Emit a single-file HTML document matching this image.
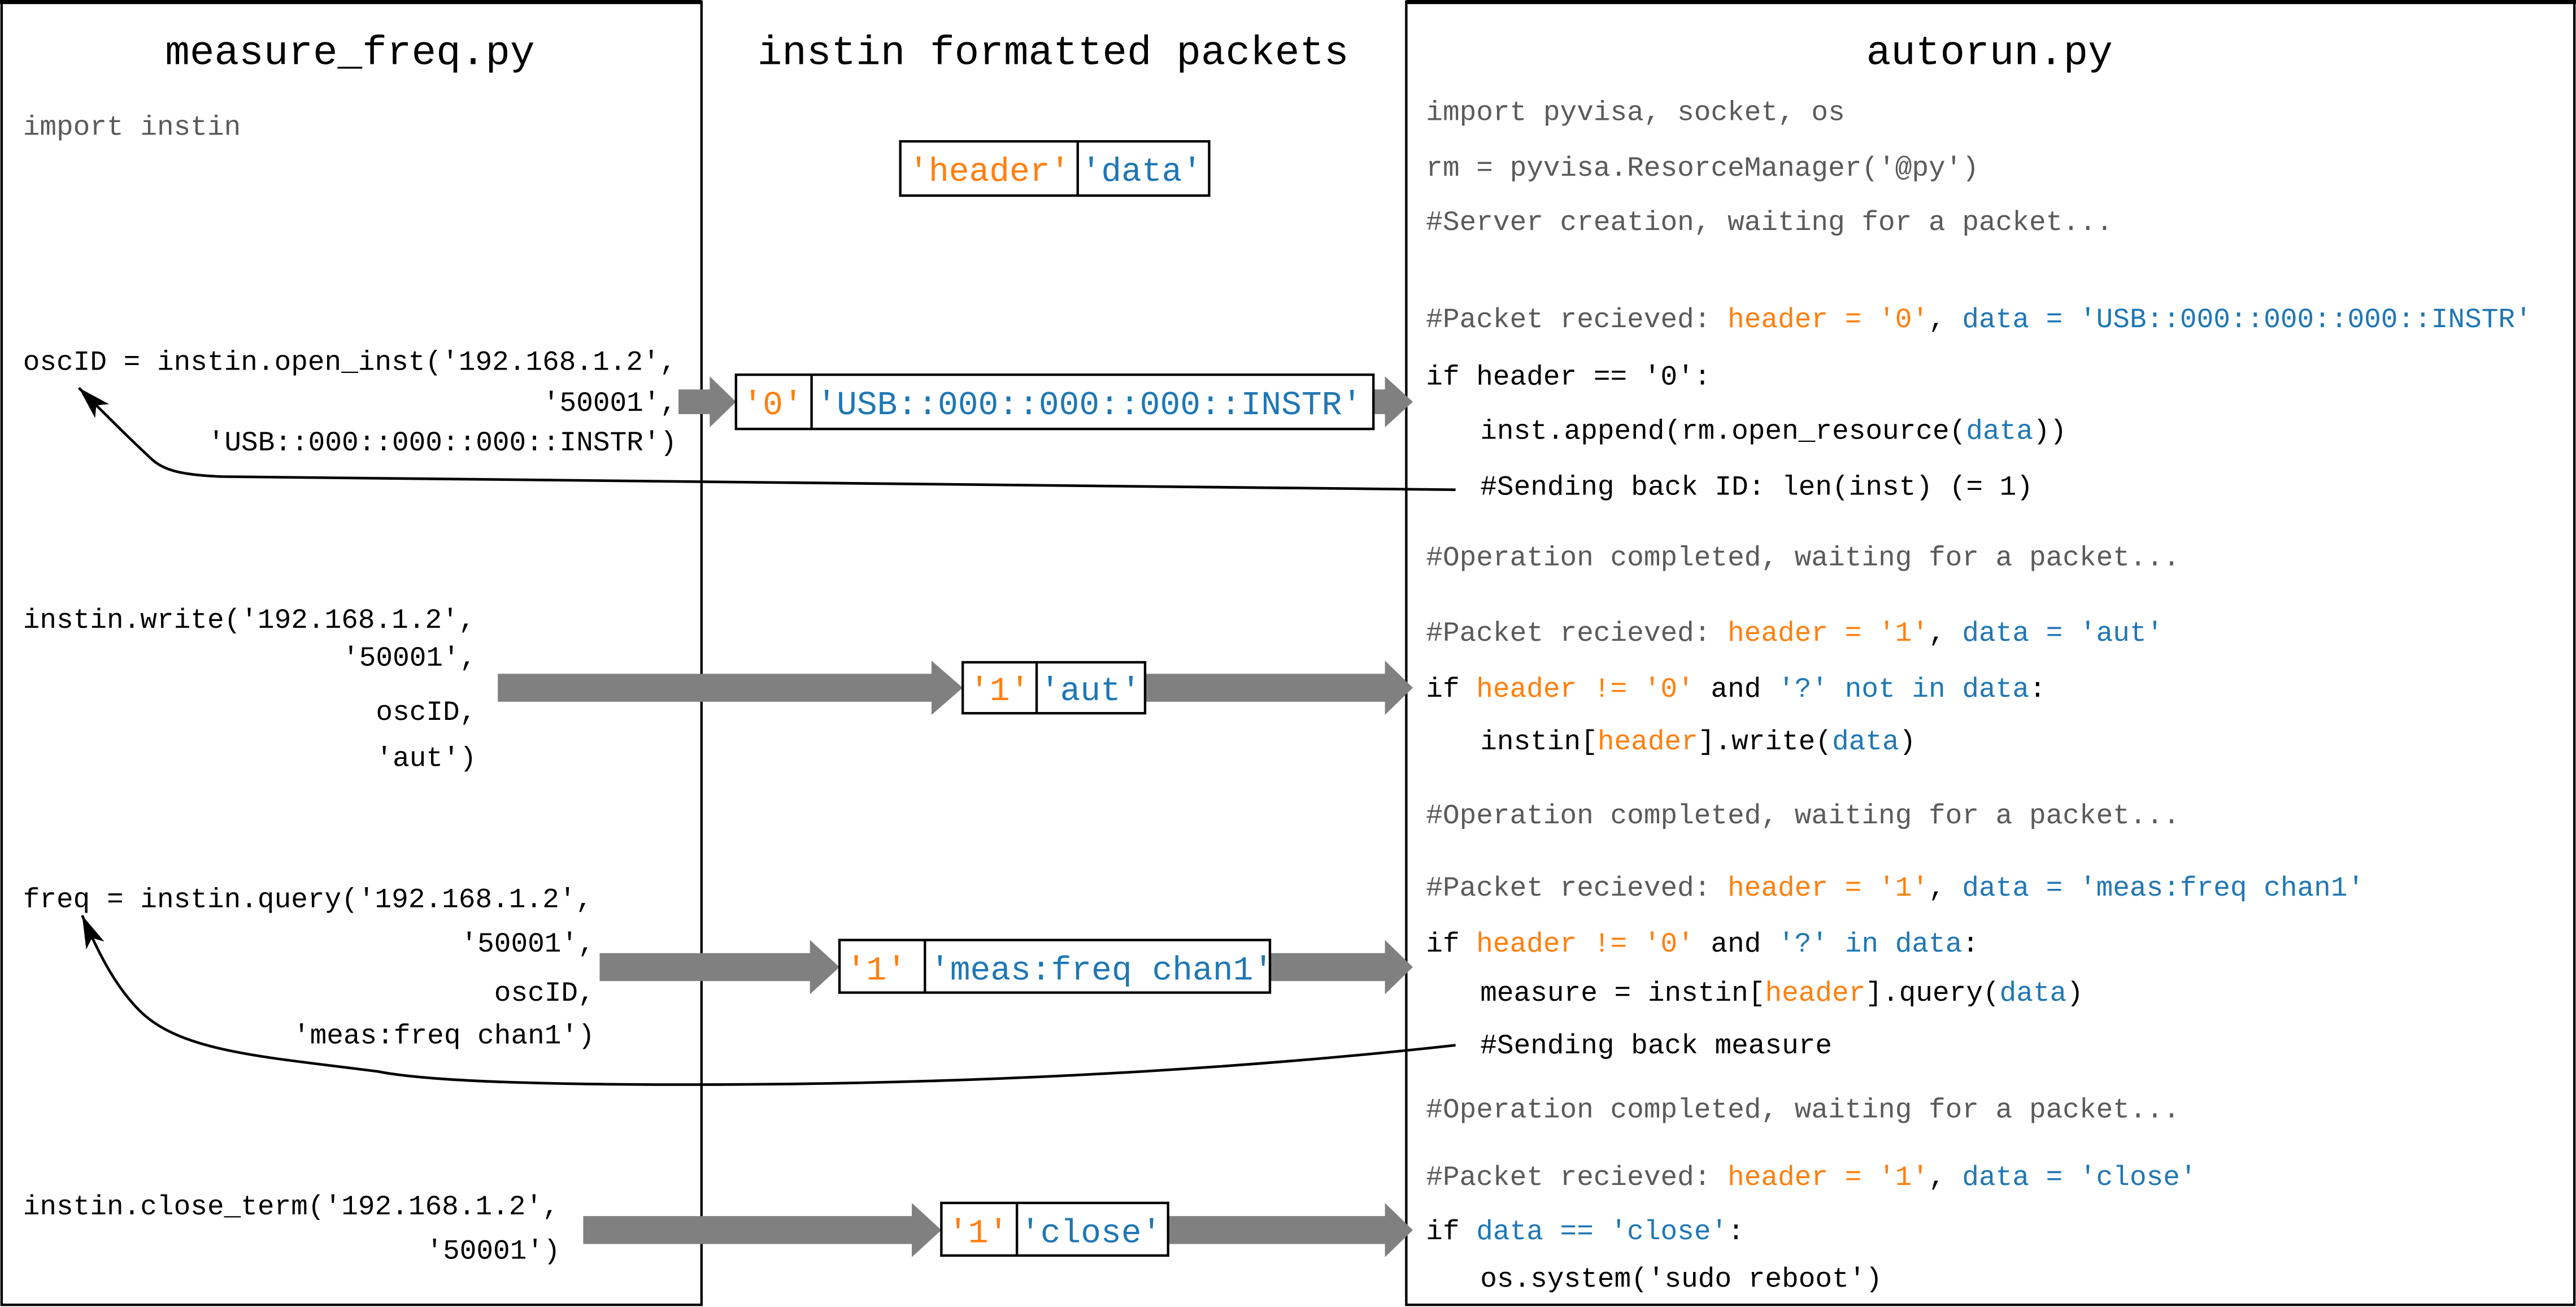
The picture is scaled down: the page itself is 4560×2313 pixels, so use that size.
<!DOCTYPE html>
<html><head><meta charset="utf-8"><style>
html,body{margin:0;padding:0;background:#fff;}
svg{display:block;}
text{font-family:"Liberation Mono",monospace;}
.c{font-size:17px;fill:#000;}
.g{fill:#5a5a5a;}
.o{fill:#ff7f0e;}
.b{fill:#1f77b4;}
.t{font-size:25px;fill:#000;}
.p{font-size:20.5px;}
</style></head><body>
<svg width="4560" height="2313" viewBox="0 0 1568 795.3" xmlns="http://www.w3.org/2000/svg" xml:space="preserve">
<defs>
<marker id="ah" viewBox="0 0 20 12" refX="20" refY="6" markerWidth="20" markerHeight="12" markerUnits="userSpaceOnUse" orient="auto">
<path d="M0,0 L20,6 L0,12 L5,6 Z" fill="#000"/>
</marker>
</defs>
<rect x="0" y="0" width="1568" height="795.3" fill="#fff"/>
<rect x="1" y="1" width="426" height="793" fill="none" stroke="#000" stroke-width="1.5"/>
<rect x="856" y="1" width="711" height="793" fill="none" stroke="#000" stroke-width="1.5"/>
<line x1="0" y1="1.2" x2="427" y2="1.2" stroke="#000" stroke-width="2.5"/>
<line x1="856" y1="1.2" x2="1568" y2="1.2" stroke="#000" stroke-width="2.5"/>

<text class="t" x="213" y="39" text-anchor="middle">measure_freq.py</text>
<text class="t" x="641" y="39" text-anchor="middle">instin formatted packets</text>
<text class="t" x="1211" y="39" text-anchor="middle">autorun.py</text>

<text class="c g" x="14" y="82">import instin</text>
<text class="c" x="14" y="225">oscID = instin.open_inst('192.168.1.2',</text>
<text class="c" x="412" y="250" text-anchor="end">'50001',</text>
<text class="c" x="412" y="274" text-anchor="end">'USB::000::000::000::INSTR')</text>

<text class="c" x="14" y="382">instin.write('192.168.1.2',</text>
<text class="c" x="290" y="405" text-anchor="end">'50001',</text>
<text class="c" x="290" y="438" text-anchor="end">oscID,</text>
<text class="c" x="290" y="466" text-anchor="end">'aut')</text>

<text class="c" x="14" y="552">freq = instin.query('192.168.1.2',</text>
<text class="c" x="362" y="579" text-anchor="end">'50001',</text>
<text class="c" x="362" y="609" text-anchor="end">oscID,</text>
<text class="c" x="362" y="635" text-anchor="end">'meas:freq chan1')</text>

<text class="c" x="14" y="739">instin.close_term('192.168.1.2',</text>
<text class="c" x="341" y="766" text-anchor="end">'50001')</text>

<g fill="#808080">
<polygon points="413,237 432,237 432,229 448,244.5 432,260 432,252 413,252"/>
<polygon points="836,237 843,237 843,229 860,244.5 843,260 843,252 836,252"/>
<polygon points="303,410 567,410 567,402 586,418.5 567,435 567,427 303,427"/>
<polygon points="697,410 843,410 843,402 860,418.5 843,435 843,427 697,427"/>
<polygon points="365,580 493,580 493,572 511,588.5 493,605 493,597 365,597"/>
<polygon points="773,580 843,580 843,572 860,588.5 843,605 843,597 773,597"/>
<polygon points="355,740 555,740 555,732 573,748.5 555,765 555,757 355,757"/>
<polygon points="711,740 843,740 843,732 860,748.5 843,765 843,757 711,757"/>
</g>

<g fill="#fff" stroke="#000" stroke-width="1.5">
<rect x="548" y="86" width="188" height="33"/><line x1="656" y1="86" x2="656" y2="119"/>
<rect x="448" y="228" width="388" height="33"/><line x1="494" y1="228" x2="494" y2="261"/>
<rect x="586" y="403" width="111" height="31"/><line x1="631" y1="403" x2="631" y2="434"/>
<rect x="511" y="572" width="262" height="32"/><line x1="563" y1="572" x2="563" y2="604"/>
<rect x="573" y="732" width="138" height="32"/><line x1="619" y1="732" x2="619" y2="764"/>
</g>
<text class="p o" x="553" y="110">'header'</text><text class="p b" x="658" y="110">'data'</text>
<text class="p o" x="452" y="252">'0'</text><text class="p b" x="497" y="252">'USB::000::000::000::INSTR'</text>
<text class="p o" x="590" y="426">'1'</text><text class="p b" x="633" y="426">'aut'</text>
<text class="p o" x="515" y="596">'1'</text><text class="p b" x="566" y="596">'meas:freq chan1'</text>
<text class="p o" x="577" y="756">'1'</text><text class="p b" x="621" y="756">'close'</text>

<text class="c g" x="868" y="73">import pyvisa, socket, os</text>
<text class="c g" x="868" y="107">rm = pyvisa.ResorceManager('@py')</text>
<text class="c g" x="868" y="140">#Server creation, waiting for a packet...</text>

<text class="c" x="868" y="199"><tspan class="g">#Packet recieved: </tspan><tspan class="o">header = '0'</tspan><tspan>, </tspan><tspan class="b">data = 'USB::000::000::000::INSTR'</tspan></text>
<text class="c" x="868" y="234">if header == '0':</text>
<text class="c" x="901" y="267">inst.append(rm.open_resource(<tspan class="b">data</tspan>))</text>
<text class="c" x="901" y="301">#Sending back ID: len(inst) (= 1)</text>
<text class="c g" x="868" y="344">#Operation completed, waiting for a packet...</text>

<text class="c" x="868" y="390"><tspan class="g">#Packet recieved: </tspan><tspan class="o">header = '1'</tspan><tspan>, </tspan><tspan class="b">data = 'aut'</tspan></text>
<text class="c" x="868" y="424">if <tspan class="o">header != '0'</tspan> and <tspan class="b">'?' not in data</tspan>:</text>
<text class="c" x="901" y="456">instin[<tspan class="o">header</tspan>].write(<tspan class="b">data</tspan>)</text>
<text class="c g" x="868" y="501">#Operation completed, waiting for a packet...</text>

<text class="c" x="868" y="545"><tspan class="g">#Packet recieved: </tspan><tspan class="o">header = '1'</tspan><tspan>, </tspan><tspan class="b">data = 'meas:freq chan1'</tspan></text>
<text class="c" x="868" y="579">if <tspan class="o">header != '0'</tspan> and <tspan class="b">'?' in data</tspan>:</text>
<text class="c" x="901" y="609">measure = instin[<tspan class="o">header</tspan>].query(<tspan class="b">data</tspan>)</text>
<text class="c" x="901" y="641">#Sending back measure</text>
<text class="c g" x="868" y="680">#Operation completed, waiting for a packet...</text>

<text class="c" x="868" y="721"><tspan class="g">#Packet recieved: </tspan><tspan class="o">header = '1'</tspan><tspan>, </tspan><tspan class="b">data = 'close'</tspan></text>
<text class="c" x="868" y="754">if <tspan class="b">data == 'close'</tspan>:</text>
<text class="c" x="901" y="783">os.system('sudo reboot')</text>

<g fill="none" stroke="#000" stroke-width="1.6">
<path d="M886,298 L135,290 C110,289 100,286 93,280 C80,268 66,254 48,236" marker-end="url(#ah)"/>
<path d="M886,636 C760,650 600,660 420,660 C330,660 260,658 230,652 C160,643 110,640 85,615 C70,600 60,580 50,557" marker-end="url(#ah)"/>
</g>
</svg>
</body></html>
